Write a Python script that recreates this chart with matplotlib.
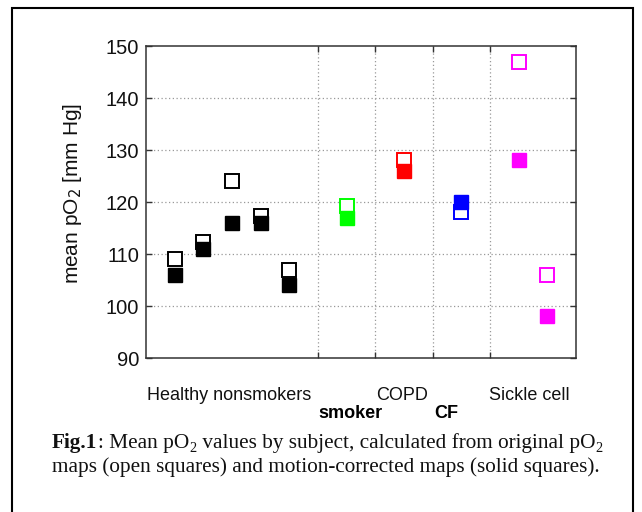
import matplotlib
matplotlib.use("Agg")
import matplotlib.pyplot as plt
from matplotlib.patches import Rectangle

# Data
subject_x = [1, 2, 3, 4, 5, 7, 9, 11, 13, 14]
open_vals = [109, 112.3, 124, 117.3, 107, 119.2, 128, 118, 147, 106]
solid_vals = [106, 111, 116, 116, 104, 117, 126, 120, 128, 98]
colors = ["black", "black", "black", "black", "black",
          "#00ff00", "#ff0000", "#0000ff", "#ff00ff", "#ff00ff"]
group_grid_x = [6, 8, 10, 12]
y_ticks = [90, 100, 110, 120, 130, 140, 150]
row1_labels = ["Healthy nonsmokers", "COPD", "Sickle cell"]
row2_labels = ["smoker", "CF"]

plt.rcParams['font.family'] = ['Liberation Sans', 'DejaVu Sans']

W, H = 642, 512
fig = plt.figure(figsize=(6.42, 5.12), dpi=100)
ax = fig.add_axes([146/W, 1-358/H, 430/W, 312/H])

for x, yo, c in zip(subject_x, open_vals, colors):
    ax.plot([x], [yo], marker='s', markersize=9.8, markerfacecolor='white',
            markeredgecolor=c, markeredgewidth=1.4, linestyle='none', zorder=3)
for x, ys, c in zip(subject_x, solid_vals, colors):
    ax.plot([x], [ys], marker='s', markersize=9.8, markerfacecolor=c,
            markeredgecolor=c, markeredgewidth=1.0, linestyle='none', zorder=4)

ax.set_xlim(0, 15)
ax.set_ylim(90, 150)
ax.set_yticks(y_ticks)
ax.set_xticks(group_grid_x)
ax.set_xticklabels([])
for yv in y_ticks[1:-1]:
    ax.axhline(yv, color='#999999', linestyle=(0, (1, 2)), linewidth=0.9, zorder=1)
for xv in group_grid_x:
    ax.axvline(xv, color='#999999', linestyle=(0, (1, 2)), linewidth=0.9, zorder=1)
ax.tick_params(direction='in', length=4, width=1, top=True, right=True,
               labelsize=14.5, colors='#333333', labelcolor='#111111', pad=5)
for s in ax.spines.values():
    s.set_color('#333333')
    s.set_linewidth(1.1)
ax.set_ylabel('mean pO$_2$ [mm Hg]', fontsize=15, color='#111111')
ax.yaxis.set_label_coords((84-146)/430, (358-193)/312)

# Group labels
fs_lab = 13
fig.text(229/W, 1-395/H, row1_labels[0], ha='center', va='center', fontsize=fs_lab, color='#111111')
fig.text(402/W, 1-395/H, row1_labels[1], ha='center', va='center', fontsize=fs_lab, color='#111111')
fig.text(529/W, 1-395/H, row1_labels[2], ha='center', va='center', fontsize=fs_lab, color='#111111')
fig.text(350/W, 1-413/H, row2_labels[0], ha='center', va='center', fontsize=fs_lab, fontweight='bold')
fig.text(446/W, 1-413/H, row2_labels[1], ha='center', va='center', fontsize=fs_lab, fontweight='bold')

# Caption built from pieces (text, bold, subscript)
serif = ['Liberation Serif', 'DejaVu Serif']
fs_cap = 15.3
renderer = fig.canvas.get_renderer()
line1 = [("Fig.1", True, False), (": Mean pO", False, False), ("2", False, True),
         (" values by subject, calculated from original pO", False, False), ("2", False, True)]
line2 = [("maps (open squares) and motion-corrected maps (solid squares).", False, False)]
for pieces, base_y in [(line1, 448), (line2, 472)]:
    x = 52.0
    for txt, bold, sub in pieces:
        fs = fs_cap * 0.68 if sub else fs_cap
        y = base_y + (4 if sub else 0)
        t = fig.text(x/W, 1-y/H, txt, ha='left', va='baseline', fontsize=fs,
                     family=serif, fontweight='bold' if bold else 'normal', color='#111111')
        bb = t.get_window_extent(renderer)
        x = bb.x1 + 0.3

# Border
fig.patches.append(Rectangle((12/W, -0.05), (633-12)/W, 1.05 - 8/H,
                             transform=fig.transFigure, fill=False,
                             edgecolor='black', linewidth=1.5))

fig.savefig('out.png', dpi=100)
